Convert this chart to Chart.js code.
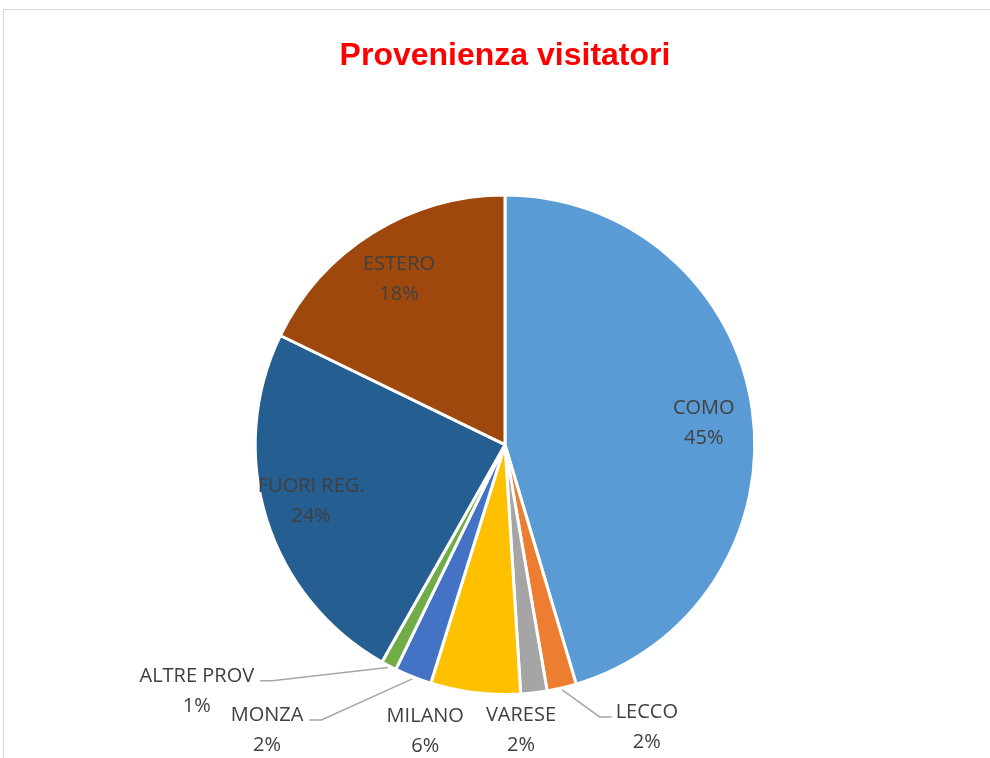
<!DOCTYPE html>
<html><head><meta charset="utf-8">
<script src="https://cdn.jsdelivr.net/npm/chart.js@4"></script>
<style>
html,body{margin:0;padding:0;background:#fff;width:990px;height:758px;overflow:hidden}
#frame{position:absolute;left:3px;top:9px;width:1100px;height:900px;border:1px solid #d9d9d9;box-sizing:border-box}
#c{position:absolute;left:0;top:0}
</style></head><body>
<div id="frame"></div>
<canvas id="c" width="990" height="758"></canvas>
<script>
// ---- data ----
const categories = ['COMO', 'LECCO', 'VARESE', 'MILANO', 'MONZA', 'ALTRE PROV', 'FUORI REG.', 'ESTERO'];
const shares = [45.4, 1.9, 1.7, 5.8, 2.4, 1.0, 24.0, 17.8];
const titleText = 'Provenienza visitatori';

// ---- styles / label placement ----
const sliceColors = ['#5B9BD5', '#ED7D31', '#A5A5A5', '#FFC000', '#4472C4', '#70AD47', '#255E91', '#9E480E'];
const labelInside = [true, false, false, false, false, false, true, true];
const labelOffsets = [[1, 6], [85, 38], [-13, 36], [-50, 37], [-146, 52], [-192, 24], [-3, -4], [0, 3]];
const leaderLines = [false, true, false, false, true, true, false, false];

const labelPlugin = {
  id: 'pieLabels',
  afterDatasetsDraw(chart) {
    const ctx = chart.ctx;
    const meta = chart.getDatasetMeta(0);
    const data = chart.data.datasets[0].data;
    const total = data.reduce((a, b) => a + b, 0);
    ctx.save();
    ctx.font = '20px "Open Sans"';
    ctx.fillStyle = '#404040';
    ctx.textAlign = 'center';
    ctx.textBaseline = 'alphabetic';
    meta.data.forEach((arc, i) => {
      const p = arc.getProps(['x', 'y', 'startAngle', 'endAngle', 'outerRadius'], true);
      const mid = (p.startAngle + p.endAngle) / 2;
      let cx, cy;
      const ox = p.x + Math.cos(mid) * p.outerRadius;
      const oy = p.y + Math.sin(mid) * p.outerRadius;
      if (labelInside[i]) {
        cx = p.x + Math.cos(mid) * p.outerRadius * 0.8 + labelOffsets[i][0];
        cy = p.y + Math.sin(mid) * p.outerRadius * 0.8 + labelOffsets[i][1];
      } else {
        cx = ox + labelOffsets[i][0];
        cy = oy + labelOffsets[i][1];
      }
      const l1 = chart.data.labels[i];
      const l2 = Math.round(data[i] / total * 100) + '%';
      const y1 = cy - 15, y2 = cy + 15;
      ctx.fillText(l1, cx, y1 + 7);
      ctx.fillText(l2, cx, y2 + 7);
      if (leaderLines[i]) {
        const w = ctx.measureText(l1).width;
        const ly = y1 + 6;
        const sx = p.x + Math.cos(mid) * (p.outerRadius + 2);
        const sy = p.y + Math.sin(mid) * (p.outerRadius + 2);
        let ex, elx;
        if (cx < ox) { ex = cx + w / 2 + 6; elx = ex + 12; }
        else { ex = cx - w / 2 - 4; elx = ex - 12; }
        ctx.save();
        ctx.strokeStyle = '#A6A6A6';
        ctx.lineWidth = 1.5;
        ctx.beginPath();
        ctx.moveTo(sx, sy);
        ctx.lineTo(elx, ly);
        ctx.lineTo(ex, ly);
        ctx.stroke();
        ctx.restore();
      }
    });
    ctx.restore();
  }
};

new Chart(document.getElementById('c'), {
  type: 'pie',
  data: {
    labels: categories,
    datasets: [{
      data: shares,
      backgroundColor: sliceColors,
      borderColor: '#FFFFFF',
      borderWidth: 3
    }]
  },
  options: {
    responsive: false,
    devicePixelRatio: 1,
    animation: false,
    layout: { padding: { left: 20, right: 0, top: 0, bottom: 62 } },
    plugins: {
      legend: { display: false },
      tooltip: { enabled: false },
      title: {
        display: true,
        text: titleText,
        color: '#FF0000',
        font: { family: '"Liberation Sans", Arial, sans-serif', size: 32, weight: 'bold' },
        padding: { top: 37, bottom: 118 }
      }
    }
  },
  plugins: [labelPlugin]
});
</script>
</body></html>
